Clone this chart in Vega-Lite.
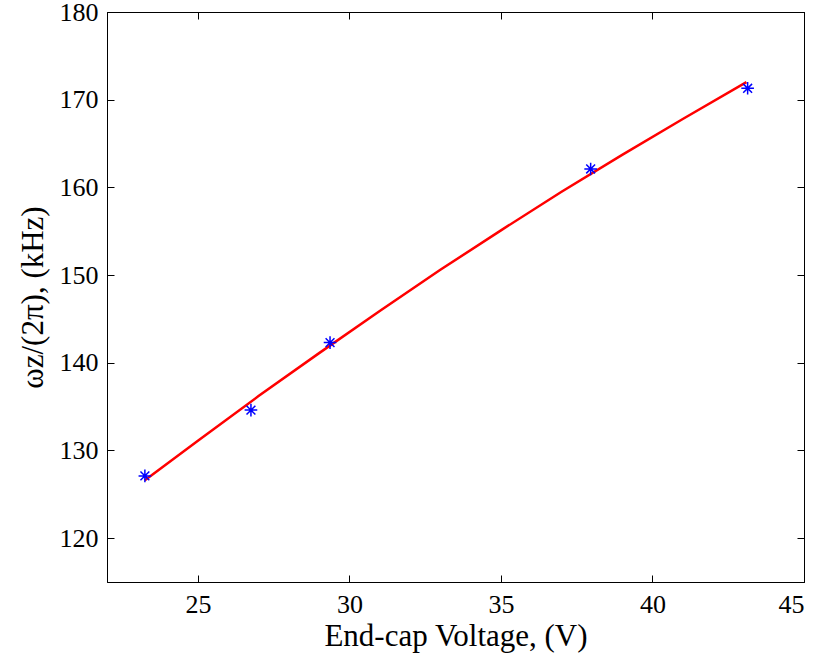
{
  "$schema": "https://vega.github.io/schema/vega-lite/v6.json",
  "width": 697,
  "height": 570,
  "autosize": {"type": "none"},
  "padding": {"left": 107, "top": 12, "right": 16, "bottom": 75},
  "background": "white",
  "config": {
    "view": {"stroke": "black", "strokeWidth": 1},
    "axis": {
      "labelFont": "Liberation Serif",
      "titleFont": "Liberation Serif",
      "labelFontSize": 26,
      "titleFontSize": 31,
      "labelColor": "black",
      "titleColor": "black",
      "titleFontWeight": "normal",
      "domainColor": "black",
      "tickColor": "black",
      "grid": false,
      "tickSize": -7,
      "labelPadding": 16
    }
  },
  "datasets": {
    "meas": [
      {"v": 23.25, "f": 127.1},
      {"v": 26.75, "f": 134.6},
      {"v": 29.36, "f": 142.3},
      {"v": 37.96, "f": 162.1},
      {"v": 43.14, "f": 171.3}
    ],
    "fit": [
      {"v": 23.25, "f": 126.6},
      {"v": 25.0, "f": 131.1},
      {"v": 27.0, "f": 136.2},
      {"v": 29.0, "f": 141.1},
      {"v": 31.0, "f": 145.9},
      {"v": 33.0, "f": 150.6},
      {"v": 35.0, "f": 155.1},
      {"v": 37.0, "f": 159.5},
      {"v": 39.0, "f": 163.7},
      {"v": 41.0, "f": 167.8},
      {"v": 43.1, "f": 172.0}
    ]
  },
  "layer": [
    {
      "data": {"name": "fit"},
      "mark": {"type": "line", "color": "#ff0000", "strokeWidth": 2.5},
      "encoding": {
        "x": {"field": "v", "type": "quantitative", "scale": {"domain": [22, 45], "nice": false, "zero": false},
              "axis": {"orient": "bottom", "values": [25, 30, 35, 40, 45], "title": "End-cap Voltage, (V)", "titlePadding": 4}},
        "y": {"field": "f", "type": "quantitative", "scale": {"domain": [115, 180], "nice": false, "zero": false},
              "axis": {"orient": "left", "values": [120, 130, 140, 150, 160, 170, 180], "title": "ωz/(2π), (kHz)", "titlePadding": 10}},
        "order": {"field": "v"}
      }
    },
    {
      "data": {"name": "meas"},
      "mark": {"type": "point", "shape": "M-1,0L1,0M0,-1L0,1M-0.7,-0.7L0.7,0.7M-0.7,0.7L0.7,-0.7", "filled": false, "color": "#0000ff", "strokeWidth": 1.5, "size": 160, "opacity": 1},
      "encoding": {
        "x": {"field": "v", "type": "quantitative", "scale": {"domain": [22, 45], "nice": false, "zero": false},
              "axis": {"orient": "top", "values": [25, 30, 35, 40, 45], "labels": false, "title": null}},
        "y": {"field": "f", "type": "quantitative", "scale": {"domain": [115, 180], "nice": false, "zero": false},
              "axis": {"orient": "right", "values": [120, 130, 140, 150, 160, 170, 180], "labels": false, "title": null}}
      }
    }
  ],
  "resolve": {"axis": {"x": "independent", "y": "independent"}}
}
